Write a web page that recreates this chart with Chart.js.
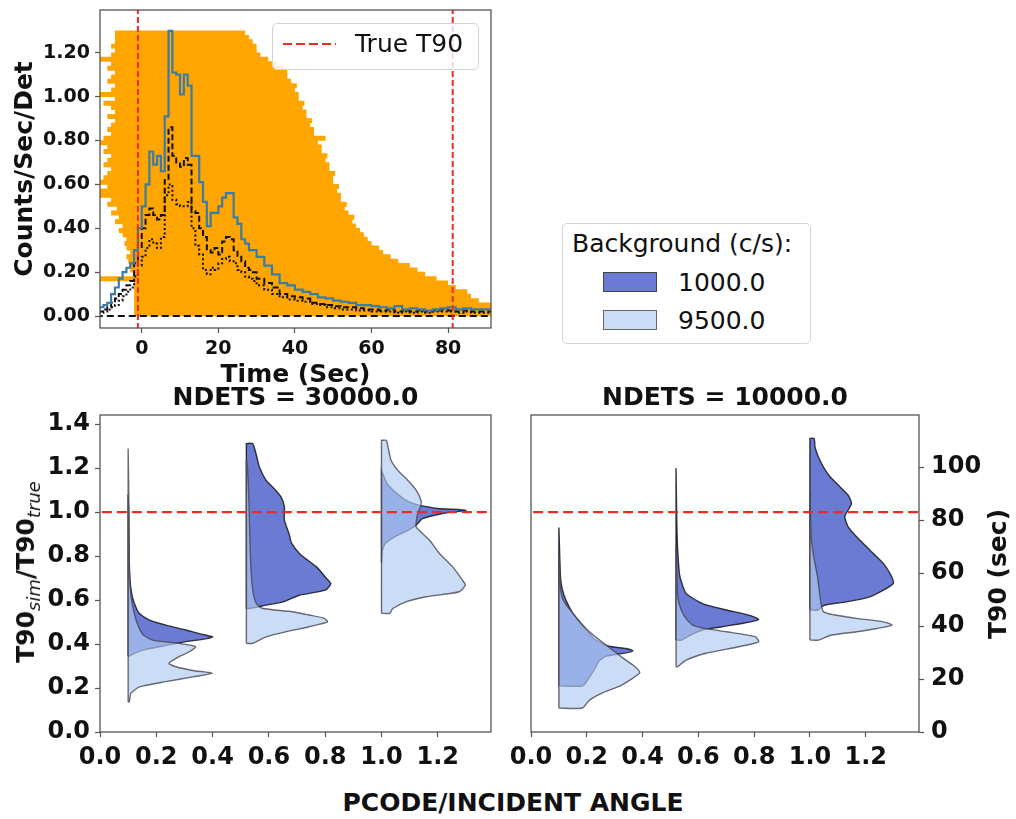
<!DOCTYPE html>
<html>
<head>
<meta charset="utf-8">
<title>T90 simulations</title>
<script src="https://cdn.jsdelivr.net/npm/chart.js@4.4.1/dist/chart.umd.min.js"></script>
<style>
  body { margin: 0; background: #fff; font-family: 'DejaVu Sans', sans-serif; color: #111; }
  #page { position: relative; width: 1016px; height: 819px; overflow: hidden; }
  canvas { position: absolute; }
  .label { position: absolute; font-weight: bold; font-size: 25px; line-height: 30px; white-space: nowrap; transform: translate(-50%, -50%); }
  .vert { transform: translate(-50%, -50%) rotate(-90deg); }
  .vert sub { font-style: italic; font-weight: normal; font-size: 18px; }
  .legend { position: absolute; background: rgba(255,255,255,0.8); border: 1px solid #d3d3d3; border-radius: 5px; font-size: 25px; line-height: 30px; }
  .legend div, .legend span { position: absolute; white-space: nowrap; }
  .patch { width: 52px; height: 18px; border: 1.5px solid #444; }
</style>
</head>
<body>
<div id="page">
  <canvas id="lc" width="500" height="390" style="left:0;top:0"></canvas>
  <canvas id="v30k" width="500" height="410" style="left:0;top:378px"></canvas>
  <canvas id="v10k" width="516" height="410" style="left:500px;top:378px"></canvas>

  <div class="legend" style="left:272px;top:23px;width:205px;height:45px">
    <span style="left:10px;top:19px;width:53px;height:2px;background:repeating-linear-gradient(90deg,#ee2a24 0 9px,transparent 9px 13px)"></span>
    <div style="left:82px;top:5px">True T90</div>
  </div>

  <div class="legend" style="left:562px;top:223px;width:247px;height:119px">
    <div style="left:9px;top:5px">Background (c/s):</div>
    <span class="patch" style="left:40px;top:48px;background:#6b7bd3"></span>
    <div style="left:115px;top:44px">1000.0</div>
    <span class="patch" style="left:40px;top:86px;background:#cbdcf6;border-color:#666"></span>
    <div style="left:115px;top:82px">9500.0</div>
  </div>

  <div class="label vert" style="left:30px;top:572px">T90<sub>sim</sub>/T90<sub>true</sub></div>
  <div class="label vert" style="left:998px;top:574px">T90 (sec)</div>
  <div class="label" style="left:513px;top:803px">PCODE/INCIDENT ANGLE</div>
</div>

<script>
Chart.defaults.font.family = "'DejaVu Sans', sans-serif";
Chart.defaults.color = '#111';

// light curve: bin start times (1 s bins to 30 s, 2 s bins after)
var binStart = [-11, -10, -9, -8, -7, -6, -5, -4, -3, -2, -1, 0, 1, 2, 3, 4, 5, 6, 7, 8, 9,
  10, 11, 12, 13, 14, 15, 16, 17, 18, 19, 20, 21, 22, 23, 24, 25, 26, 27, 28, 29,
  30, 32, 34, 36, 38, 40, 42, 44, 46, 48, 50, 52, 54, 56, 58, 60, 62, 64, 66, 68,
  70, 72, 74, 76, 78, 80, 82, 84, 86, 88, 90];
var binEnd = 92;

var rateTotal = [0.03, 0.04, 0.05, 0.06, 0.10, 0.13, 0.17, 0.20, 0.22, 0.24, 0.30, 0.40, 0.50, 0.60, 0.75, 0.69, 0.73, 0.66, 0.91, 1.30, 1.11,
  1.10, 1.01, 1.10, 1.05, 0.73, 0.73, 0.61, 0.52, 0.41, 0.47, 0.47, 0.50, 0.54, 0.56, 0.56, 0.45, 0.42, 0.35, 0.33, 0.30,
  0.30, 0.27, 0.23, 0.19, 0.15, 0.14, 0.12, 0.11, 0.10, 0.085, 0.08, 0.07, 0.065, 0.06, 0.05, 0.05, 0.045, 0.04, 0.035, 0.045,
  0.03, 0.035, 0.03, 0.025, 0.03, 0.035, 0.04, 0.03, 0.035, 0.03, 0.03];
var rateDashed = [0.01, 0.02, 0.03, 0.04, 0.06, 0.08, 0.10, 0.12, 0.14, 0.16, 0.24, 0.31, 0.40, 0.46, 0.49, 0.46, 0.44, 0.46, 0.62, 0.86, 0.73,
  0.70, 0.68, 0.72, 0.69, 0.48, 0.47, 0.40, 0.36, 0.30, 0.29, 0.31, 0.28, 0.34, 0.36, 0.35, 0.30, 0.27, 0.25, 0.22, 0.21,
  0.20, 0.17, 0.15, 0.13, 0.10, 0.09, 0.085, 0.08, 0.06, 0.055, 0.05, 0.045, 0.04, 0.04, 0.035, 0.03, 0.03, 0.025, 0.03, 0.02,
  0.025, 0.02, 0.025, 0.02, 0.025, 0.03, 0.025, 0.02, 0.025, 0.02, 0.02];
var rateDotted = [0.01, 0.015, 0.02, 0.03, 0.04, 0.05, 0.07, 0.09, 0.11, 0.13, 0.18, 0.23, 0.27, 0.31, 0.35, 0.33, 0.31, 0.36, 0.55, 0.60, 0.53,
  0.51, 0.50, 0.50, 0.52, 0.40, 0.32, 0.28, 0.21, 0.19, 0.22, 0.21, 0.24, 0.26, 0.27, 0.25, 0.24, 0.21, 0.20, 0.18, 0.17,
  0.16, 0.14, 0.12, 0.10, 0.085, 0.075, 0.07, 0.065, 0.055, 0.05, 0.04, 0.035, 0.03, 0.03, 0.025, 0.025, 0.02, 0.02, 0.02, 0.015,
  0.02, 0.015, 0.02, 0.015, 0.02, 0.02, 0.02, 0.015, 0.02, 0.015, 0.015];

// horizontal spans of the simulated band: level, start, end (sec)
var bandLevel = [0.01, 0.03, 0.05, 0.07, 0.09, 0.11, 0.13, 0.15, 0.17, 0.19, 0.21, 0.23, 0.25, 0.27, 0.29, 0.31,
  0.33, 0.35, 0.37, 0.39, 0.41, 0.43, 0.45, 0.47, 0.49, 0.51, 0.53, 0.55, 0.57, 0.59, 0.61, 0.63,
  0.65, 0.67, 0.69, 0.71, 0.73, 0.75, 0.77, 0.79, 0.81, 0.83, 0.85, 0.87, 0.89, 0.91, 0.93, 0.95,
  0.97, 0.99, 1.01, 1.03, 1.05, 1.07, 1.09, 1.11, 1.13, 1.15, 1.17, 1.19, 1.21, 1.23, 1.25, 1.27, 1.29];
var bandStart = [-2, -2, -2, -2, -2, -2, -2, -2, -11, -2, -3, -3, -3.5, -4, -3, -4,
  -4.5, -4, -5, -6, -5, -7, -6, -8, -6.5, -9, -8, -11, -11, -9, -11, -10,
  -9, -8, -10, -9, -8, -10, -9, -11, -10, -8, -9, -8, -7, -9, -7, -8,
  -10, -7, -11, -8, -7, -9, -8, -7, -9, -8, -11, -8, -7, -8, -7, -7, -7];
var bandEnd = [92, 92, 92, 88, 86, 85, 82, 80, 77, 74, 72, 70, 67, 65, 63, 62,
  60, 59, 58, 57, 56, 55, 55.5, 54, 53, 53.5, 52, 52, 51, 51.5, 50, 50,
  50.5, 49, 49, 48, 48.5, 47, 47, 46, 48, 45, 45, 44, 44.5, 43, 43, 42,
  42.5, 41, 41, 40, 40.5, 39, 38, 38, 37, 35, 33, 31, 30, 30, 29, 28, 27];

var trueT90Start = -1.0;
var trueT90End = 81.2;
var timeTicks = [0, 20, 40, 60, 80];
var rateTicks = [0, 0.2, 0.4, 0.6, 0.8, 1.0, 1.2];

// half violins of T90_sim / T90_true; groups sit at these PCODE/angle positions
var groupPos = [0.10, 0.52, 1.00];
var t90True = 83;
var ratioTicks = [0, 0.2, 0.4, 0.6, 0.8, 1.0, 1.2, 1.4];
var pcodeTicks = [0, 0.2, 0.4, 0.6, 0.8, 1.0, 1.2];
var secTicks = [0, 20, 40, 60, 80, 100];

// NDETS = 30000, background 1000 c/s
var n30kBg1000Y = [
  [0.345, 0.36, 0.375, 0.39, 0.41, 0.425, 0.433, 0.445, 0.464, 0.486, 0.51, 0.54, 0.575, 0.615, 0.66, 0.72, 0.85, 1.0, 1.08],
  [0.562, 0.577, 0.592, 0.623, 0.645, 0.675, 0.705, 0.75, 0.81, 0.86, 0.90, 0.964, 1.024, 1.07, 1.115, 1.145, 1.206, 1.267, 1.312],
  [0.77, 0.83, 0.86, 0.89, 0.915, 0.941, 0.971, 0.994, 1.009, 1.017, 1.03, 1.04, 1.06, 1.09, 1.13, 1.19]
];
var n30kBg1000W = [
  [0.004, 0.025, 0.06, 0.12, 0.20, 0.28, 0.30, 0.26, 0.205, 0.134, 0.074, 0.039, 0.025, 0.015, 0.009, 0.005, 0.003, 0.002, 0.0],
  [0.01, 0.07, 0.13, 0.19, 0.28, 0.30, 0.28, 0.25, 0.19, 0.16, 0.152, 0.135, 0.135, 0.123, 0.093, 0.07, 0.046, 0.034, 0.022],
  [0.0, 0.004, 0.015, 0.05, 0.09, 0.123, 0.146, 0.217, 0.30, 0.20, 0.14, 0.111, 0.08, 0.05, 0.02, 0.0]
];
// NDETS = 30000, background 9500 c/s
var n30kBg9500Y = [
  [0.136, 0.155, 0.177, 0.205, 0.229, 0.251, 0.267, 0.28, 0.297, 0.312, 0.335, 0.365, 0.388, 0.403, 0.418, 0.44, 0.47, 0.51, 0.56, 0.62, 0.72, 0.9, 1.1, 1.29],
  [0.403, 0.433, 0.456, 0.479, 0.501, 0.517, 0.532, 0.547, 0.562, 0.577, 0.60, 0.65, 0.75, 0.9, 1.05, 1.2, 1.236],
  [0.54, 0.562, 0.592, 0.615, 0.638, 0.668, 0.69, 0.751, 0.812, 0.873, 0.933, 0.97, 1.00, 1.03, 1.055, 1.10, 1.145, 1.19, 1.236, 1.297, 1.327]
];
var n30kBg9500W = [
  [0.004, 0.006, 0.01, 0.04, 0.134, 0.23, 0.30, 0.23, 0.17, 0.145, 0.17, 0.217, 0.24, 0.18, 0.087, 0.055, 0.04, 0.028, 0.018, 0.01, 0.005, 0.003, 0.002, 0.0],
  [0.022, 0.07, 0.14, 0.223, 0.288, 0.277, 0.223, 0.164, 0.058, 0.04, 0.03, 0.022, 0.016, 0.012, 0.009, 0.004, 0.0],
  [0.03, 0.04, 0.087, 0.158, 0.276, 0.298, 0.288, 0.253, 0.206, 0.17, 0.123, 0.125, 0.13, 0.14, 0.14, 0.123, 0.093, 0.058, 0.034, 0.023, 0.017]
];
// NDETS = 10000, background 1000 c/s
var n10kBg1000Y = [
  [0.21, 0.25, 0.29, 0.325, 0.345, 0.36, 0.37, 0.38, 0.39, 0.42, 0.46, 0.50, 0.54, 0.60, 0.65, 0.70, 0.80, 0.93],
  [0.418, 0.44, 0.464, 0.479, 0.497, 0.512, 0.532, 0.555, 0.584, 0.63, 0.68, 0.72, 0.85, 1.0, 1.2],
  [0.555, 0.573, 0.582, 0.592, 0.615, 0.645, 0.676, 0.714, 0.767, 0.827, 0.888, 0.933, 0.979, 1.01, 1.039, 1.077, 1.115, 1.161, 1.206, 1.252, 1.297, 1.335]
];
var n10kBg1000W = [
  [0.085, 0.11, 0.13, 0.145, 0.17, 0.24, 0.265, 0.24, 0.18, 0.13, 0.10, 0.075, 0.05, 0.025, 0.012, 0.006, 0.003, 0.0],
  [0.02, 0.05, 0.095, 0.166, 0.249, 0.296, 0.26, 0.18, 0.095, 0.036, 0.02, 0.012, 0.005, 0.002, 0.0],
  [0.03, 0.045, 0.072, 0.13, 0.215, 0.263, 0.299, 0.29, 0.263, 0.215, 0.167, 0.137, 0.125, 0.137, 0.149, 0.137, 0.108, 0.072, 0.048, 0.03, 0.018, 0.015]
];
// NDETS = 10000, background 9500 c/s
var n10kBg9500Y = [
  [0.109, 0.145, 0.18, 0.21, 0.245, 0.27, 0.30, 0.336, 0.365, 0.395, 0.455, 0.50, 0.54, 0.58, 0.61, 0.65, 0.72, 0.81],
  [0.297, 0.327, 0.358, 0.388, 0.41, 0.433, 0.456, 0.47, 0.486, 0.51, 0.54, 0.58, 0.615, 0.70, 0.85],
  [0.418, 0.441, 0.456, 0.471, 0.486, 0.501, 0.517, 0.532, 0.547, 0.60, 0.70, 0.81, 0.90, 1.085]
];
var n10kBg9500W = [
  [0.084, 0.11, 0.16, 0.22, 0.265, 0.29, 0.27, 0.23, 0.20, 0.17, 0.11, 0.075, 0.05, 0.025, 0.012, 0.006, 0.003, 0.0],
  [0.005, 0.036, 0.107, 0.225, 0.296, 0.285, 0.18, 0.107, 0.06, 0.04, 0.024, 0.012, 0.006, 0.003, 0.0],
  [0.03, 0.078, 0.167, 0.24, 0.294, 0.263, 0.167, 0.09, 0.048, 0.038, 0.028, 0.012, 0.004, 0.0]
];

var darkFill = 'rgba(34, 58, 190, 0.67)';
var lightFill = 'rgba(177, 203, 242, 0.67)';
var redDash = '#ee2a24';

// box around the plotting area, like matplotlib spines
var framePlugin = {
  id: 'frame',
  afterDatasetsDraw: function (chart) {
    var a = chart.chartArea, c = chart.ctx;
    c.save();
    c.strokeStyle = '#555';
    c.lineWidth = 1.3;
    c.strokeRect(a.left, a.top, a.right - a.left, a.bottom - a.top);
    c.restore();
  }
};

function fixTicks(values) {
  return function (scale) {
    scale.ticks = values.map(function (v) { return { value: v }; });
  };
}

function fixSize(prop, size) {
  return function (scale) {
    scale[prop] = size;
    scale.paddingTop = 0; scale.paddingBottom = 0;
    scale.paddingLeft = 0; scale.paddingRight = 0;
  };
}

function stepData(values) {
  var pts = binStart.map(function (t, i) { return { x: t, y: values[i] }; });
  pts.push({ x: binEnd, y: values[values.length - 1] });
  return pts;
}

function bandData() {
  var pts = [];
  for (var i = 0; i < bandLevel.length; i++) {
    pts.push({ x: bandStart[i], y: bandLevel[i] });
    pts.push({ x: bandEnd[i], y: bandLevel[i] });
    pts.push({ x: bandEnd[i], y: null });
  }
  return pts;
}

// closed outline: straight edge along the group position, density on the right
function violinData(base, ys, ws) {
  var first = ys[0], last = ys[ys.length - 1];
  var pts = [{ x: base, y: first }, { x: base, y: first }];
  for (var i = 0; i < ys.length; i++) pts.push({ x: base + ws[i], y: ys[i] });
  pts.push({ x: base, y: last }, { x: base, y: last }, { x: base, y: first }, { x: base, y: first });
  return pts;
}

function violinSets(ysList, wsList, fill, edge, order) {
  return groupPos.map(function (base, g) {
    return {
      data: violinData(base, ysList[g], wsList[g]),
      fill: 'shape', backgroundColor: fill, borderColor: edge,
      borderWidth: 1.4, tension: 0.2, pointRadius: 0, order: order
    };
  });
}

var boldTick = function (size) { return { size: size, weight: 'bold' }; };
var tickGrid = { display: true, drawOnChartArea: false, drawTicks: true, tickLength: 5, tickColor: '#555', tickWidth: 1.2 };

new Chart(document.getElementById('lc'), {
  type: 'line',
  data: {
    datasets: [
      { data: bandData(), borderColor: '#ffa500', borderWidth: 5, borderCapStyle: 'butt', pointRadius: 0, order: 6 },
      { data: [{ x: -12, y: 0 }, { x: 93, y: 0 }], borderColor: '#111', borderWidth: 2, borderDash: [7, 4], pointRadius: 0, order: 5 },
      { data: stepData(rateDotted), stepped: 'after', borderColor: '#111', borderWidth: 2, borderDash: [2, 2.5], pointRadius: 0, order: 4 },
      { data: stepData(rateDashed), stepped: 'after', borderColor: '#111', borderWidth: 2, borderDash: [6, 3], pointRadius: 0, order: 3 },
      { data: stepData(rateTotal), stepped: 'after', borderColor: '#3b7ca6', borderWidth: 2.2, pointRadius: 0, order: 2 },
      { data: [{ x: trueT90Start, y: -0.1 }, { x: trueT90Start, y: 1.5 }, { x: trueT90Start, y: null },
               { x: trueT90End, y: -0.1 }, { x: trueT90End, y: 1.5 }],
        borderColor: redDash, borderWidth: 2, borderDash: [6, 3], pointRadius: 0, order: 1 }
    ]
  },
  options: {
    responsive: false, animation: false, events: [],
    layout: { padding: { left: 0, top: 10, right: 9, bottom: 0 } },
    plugins: { legend: { display: false }, tooltip: { enabled: false } },
    scales: {
      x: {
        type: 'linear', min: -10.9, max: 91.2,
        afterBuildTicks: fixTicks(timeTicks), afterFit: fixSize('height', 62),
        grid: tickGrid, border: { display: false },
        ticks: { font: boldTick(19), padding: 5, maxRotation: 0 },
        title: { display: true, text: 'Time (Sec)', font: boldTick(25), padding: { top: 0, bottom: 0 } }
      },
      y: {
        min: -0.0547, max: 1.395,
        afterBuildTicks: fixTicks(rateTicks), afterFit: fixSize('width', 100),
        grid: tickGrid, border: { display: false },
        ticks: { font: boldTick(19), padding: 5, callback: function (v) { return v.toFixed(2); } },
        title: { display: true, text: 'Counts/Sec/Det', font: boldTick(25), padding: { top: 10, bottom: 0 } }
      }
    }
  },
  plugins: [framePlugin]
});

function refLine() {
  return { data: [{ x: -0.1, y: 1 }, { x: 1.5, y: 1 }], borderColor: redDash, borderWidth: 2.2, borderDash: [10, 5], pointRadius: 0, order: 0 };
}

new Chart(document.getElementById('v30k'), {
  type: 'line',
  data: {
    datasets: violinSets(n30kBg1000Y, n30kBg1000W, darkFill, 'rgba(30,30,40,0.9)', 3)
      .concat(violinSets(n30kBg9500Y, n30kBg9500W, lightFill, 'rgba(70,70,80,0.8)', 2))
      .concat([refLine()])
  },
  options: {
    responsive: false, animation: false, events: [],
    layout: { padding: { left: 0, top: 0, right: 9, bottom: 0 } },
    plugins: {
      legend: { display: false }, tooltip: { enabled: false },
      title: { display: true, fullSize: false, text: 'NDETS = 30000.0', font: boldTick(25), color: '#111', padding: { top: 5, bottom: 2 } }
    },
    scales: {
      x: {
        type: 'linear', min: 0, max: 1.389,
        afterBuildTicks: fixTicks(pcodeTicks), afterFit: fixSize('height', 56),
        grid: tickGrid, border: { display: false },
        ticks: { font: boldTick(24), padding: 6, maxRotation: 0, callback: function (v) { return v.toFixed(1); } }
      },
      y: {
        min: 0, max: 1.442,
        afterBuildTicks: fixTicks(ratioTicks), afterFit: fixSize('width', 100),
        grid: tickGrid, border: { display: false },
        ticks: { font: boldTick(24), padding: 5, callback: function (v) { return v.toFixed(1); } }
      }
    }
  },
  plugins: [framePlugin]
});

new Chart(document.getElementById('v10k'), {
  type: 'line',
  data: {
    datasets: violinSets(n10kBg1000Y, n10kBg1000W, darkFill, 'rgba(30,30,40,0.9)', 3)
      .concat(violinSets(n10kBg9500Y, n10kBg9500W, lightFill, 'rgba(70,70,80,0.8)', 2))
      .concat([refLine()])
  },
  options: {
    responsive: false, animation: false, events: [],
    layout: { padding: { left: 31, top: 0, right: 0, bottom: 0 } },
    plugins: {
      legend: { display: false }, tooltip: { enabled: false },
      title: { display: true, fullSize: false, text: 'NDETS = 10000.0', font: boldTick(25), color: '#111', padding: { top: 5, bottom: 2 } }
    },
    scales: {
      x: {
        type: 'linear', min: 0, max: 1.391,
        afterBuildTicks: fixTicks(pcodeTicks), afterFit: fixSize('height', 56),
        grid: tickGrid, border: { display: false },
        ticks: { font: boldTick(24), padding: 6, maxRotation: 0, callback: function (v) { return v.toFixed(1); } }
      },
      y: { display: false, min: 0, max: 1.442 },
      y2: {
        position: 'right', min: 0, max: 1.442 * t90True,
        afterBuildTicks: fixTicks(secTicks), afterFit: fixSize('width', 97),
        grid: tickGrid, border: { display: false },
        ticks: { font: boldTick(24), padding: 7 }
      }
    }
  },
  plugins: [framePlugin]
});
</script>
</body>
</html>
